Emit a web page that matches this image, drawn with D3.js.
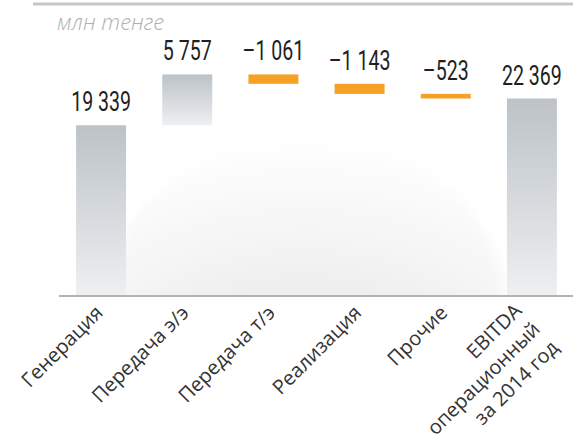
<!DOCTYPE html>
<html>
<head>
<meta charset="utf-8">
<script src="https://cdn.jsdelivr.net/npm/d3@7"></script>
<style>
  html, body { margin: 0; padding: 0; background: #fff; }
  svg { display: block; }
</style>
</head>
<body>
<div id="chart"></div>
<script>
// data (млн тенге)
const categories = [
  ["Генерация"],
  ["Передача э/э"],
  ["Передача т/э"],
  ["Реализация"],
  ["Прочие"],
  ["EBITDA", "операционный", "за 2014 год"]
];
const values = [19339, 5757, -1061, -1143, -523, 22369];
const kinds = ["total", "delta", "delta", "delta", "delta", "total"];
const unitLabel = "млн тенге";

const width = 573, height = 442;
const baseY = 296;

const fmt = d3.formatLocale({
  decimal: ",", thousands: " ", grouping: [3], currency: ["", ""], minus: "\u2013"
}).format(",d");

// waterfall steps
let running = 0;
const steps = values.map((v, i) => {
  let from, to;
  if (kinds[i] === "total") {
    from = 0; to = v; running = v;
  } else {
    from = running; to = running + v; running = to;
  }
  return { i, v, kind: kinds[i], from, to, lines: categories[i] };
});

const x = d3.scaleBand()
  .domain(d3.range(categories.length))
  .range([58, 575])
  .paddingInner(0.42)
  .paddingOuter(0.21);

const y = d3.scaleLinear()
  .domain([0, 22369])
  .range([baseY, 98.5]);

const svg = d3.select("#chart").append("svg")
  .attr("width", width)
  .attr("height", height);

const defs = svg.append("defs");

const glow = defs.append("radialGradient")
  .attr("id", "glow")
  .attr("cx", "50%").attr("cy", "100%").attr("r", "100%")
  .attr("fx", "50%").attr("fy", "100%");
glow.append("stop").attr("offset", "0%").attr("stop-color", "#e4e4e4");
glow.append("stop").attr("offset", "55%").attr("stop-color", "#efefef");
glow.append("stop").attr("offset", "100%").attr("stop-color", "#ffffff");

const barGrad = defs.append("linearGradient")
  .attr("id", "barGrad")
  .attr("x1", 0).attr("y1", 0).attr("x2", 0).attr("y2", 1);
barGrad.append("stop").attr("offset", "0%").attr("stop-color", "#bcc2c7");
barGrad.append("stop").attr("offset", "100%").attr("stop-color", "#eef0f2");

defs.append("clipPath").attr("id", "plotClip")
  .append("rect").attr("x", 0).attr("y", 0).attr("width", width).attr("height", baseY);

defs.append("filter").attr("id", "soft")
  .attr("x", "-20%").attr("y", "-20%").attr("width", "140%").attr("height", "140%")
  .append("feGaussianBlur").attr("stdDeviation", 6);

// soft spotlight behind the bars
svg.append("g").attr("clip-path", "url(#plotClip)")
  .append("ellipse")
  .attr("cx", 305).attr("cy", baseY + 10)
  .attr("rx", 200).attr("ry", 170)
  .attr("fill", "url(#glow)")
  .attr("filter", "url(#soft)");

// top rule
svg.append("line")
  .attr("x1", 33).attr("x2", width)
  .attr("y1", 4).attr("y2", 4)
  .attr("stroke", "#c6c6c6").attr("stroke-width", 3);

svg.append("text")
  .attr("x", 57).attr("y", 30)
  .attr("font-family", "Open Sans, sans-serif")
  .attr("font-style", "italic")
  .attr("font-weight", 300)
  .attr("font-size", 22)
  .attr("fill", "#b0b0b0")
  .text(unitLabel);

// bars
const bars = svg.append("g");
bars.selectAll("rect.total")
  .data(steps.filter(d => d.kind === "total"))
  .join("rect")
  .attr("class", "total")
  .attr("x", d => x(d.i))
  .attr("width", x.bandwidth())
  .attr("y", d => y(d.to))
  .attr("height", d => y(0) - y(d.to))
  .attr("fill", "url(#barGrad)");

bars.selectAll("rect.up")
  .data(steps.filter(d => d.kind === "delta" && d.v > 0))
  .join("rect")
  .attr("class", "up")
  .attr("x", d => x(d.i))
  .attr("width", x.bandwidth())
  .attr("y", d => y(d.to))
  .attr("height", d => y(d.from) - y(d.to))
  .attr("fill", "url(#barGrad)");

bars.selectAll("rect.down")
  .data(steps.filter(d => d.kind === "delta" && d.v < 0))
  .join("rect")
  .attr("class", "down")
  .attr("x", d => x(d.i))
  .attr("width", x.bandwidth())
  .attr("y", d => y(d.from))
  .attr("height", d => y(d.to) - y(d.from))
  .attr("fill", "#f6a126");

// value labels (condensed look)
svg.append("g").selectAll("text")
  .data(steps)
  .join("text")
  .attr("transform", d => {
    const top = y(Math.max(d.from, d.to));
    return `translate(${x(d.i) + x.bandwidth() / 2},${top - 14}) scale(0.7,1)`;
  })
  .attr("text-anchor", "middle")
  .attr("font-family", "Roboto, sans-serif")
  .attr("font-size", 28)
  .attr("fill", "#231f20")
  .text(d => fmt(d.v));

// baseline
svg.append("line")
  .attr("x1", 59).attr("x2", width)
  .attr("y1", baseY).attr("y2", baseY)
  .attr("stroke", "#b3b3b3").attr("stroke-width", 2);

// category labels, rotated; the long one is right-aligned a little higher
const cat = svg.append("g").selectAll("text")
  .data(steps)
  .join("text")
  .attr("transform", d => {
    const multi = d.lines.length > 1;
    const cx = x(d.i) + x.bandwidth() / 2 + (multi ? -9 : 3);
    const cy = baseY + (multi ? 16 : 18);
    return `translate(${cx},${cy}) rotate(-45)`;
  })
  .attr("text-anchor", "end")
  .attr("font-family", "Open Sans, sans-serif")
  .attr("font-size", 20)
  .attr("fill", "#333");

cat.selectAll("tspan")
  .data(d => d.lines)
  .join("tspan")
  .attr("x", 0)
  .attr("dy", (d, i) => i === 0 ? 0 : "1.3em")
  .text(d => d);
</script>
</body>
</html>
